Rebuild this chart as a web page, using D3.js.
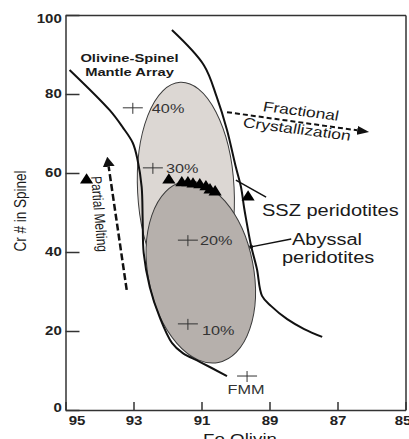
<!DOCTYPE html>
<html>
<head>
<meta charset="utf-8">
<script src="https://cdn.jsdelivr.net/npm/d3@7"></script>
<style>
  body { margin: 0; background: #fff; }
  svg { display: block; font-family: "Liberation Sans", Arial, sans-serif; }
</style>
</head>
<body>
<svg id="chart" width="409" height="439"></svg>
<script>
// axis ticks
var foTicks = [95, 93, 91, 89, 87, 85];
var crTicks = [0, 20, 40, 60, 80, 100];

// olivine-spinel mantle array, left boundary (Fo, Cr#)
var leftFo = [94.88, 93.70, 93.32, 93.02, 92.88, 92.76, 92.73, 92.70, 92.52, 92.23, 91.87, 91.55, 91.05, 90.25];
var leftCr = [86.1, 75.9, 71.6, 67.6, 63.3, 56.5, 48.1, 39.7, 31.1, 23.5, 17.0, 14.4, 12.2, 8.6];

// right boundary
var rightFo = [91.87, 90.93, 90.55, 90.25, 89.99, 89.84, 89.75, 89.69, 89.54, 89.37, 89.22, 88.95, 88.48, 87.98, 87.45];
var rightCr = [96.2, 87.3, 79.2, 70.9, 61.5, 56.5, 51.4, 48.4, 41.5, 35.7, 28.9, 26.3, 23.0, 20.5, 18.5];

// fields: SSZ (light) and abyssal (dark)
var fieldNames = ["SSZ", "Abyssal"];
var fieldFo = [91.46, 91.02];
var fieldCr = [55.7, 34.9];
var fieldFoHalf = [1.42, 1.55];
var fieldCrHalf = [27.3, 23.3];
var fieldTilt = [-3, -11];

// melting degree marks
var meltLabels = ["40%", "30%", "20%", "10%", "FMM"];
var meltFo = [93.02, 92.43, 91.40, 91.40, 89.66];
var meltCr = [76.5, 61.3, 43.0, 21.8, 8.6];

// spinel samples (triangles)
var sampleFo = [94.38, 91.96, 91.58, 91.40, 91.25, 91.05, 90.87, 90.75, 90.60, 89.63];
var sampleCr = [58.2, 58.2, 57.5, 57.5, 57.2, 57.0, 56.5, 55.7, 55.2, 53.9];

// trend arrows [start, end] in (Fo, Cr#)
var meltArrowFo = [93.20, 93.73];
var meltArrowCr = [30.4, 61.6];
var fracArrowFo = [90.25, 86.42];
var fracArrowCr = [75.4, 70.8];

var SX = 1.25; // the figure's type is a bit wide

var svg = d3.select("#chart");
var x = d3.scaleLinear().domain([95, 85]).range([65.5, 405.5]);
var y = d3.scaleLinear().domain([0, 100]).range([410, 15]);

var defs = svg.append("defs");
function head(id, len, wid) {
  defs.append("marker")
    .attr("id", id)
    .attr("markerUnits", "userSpaceOnUse")
    .attr("markerWidth", len).attr("markerHeight", wid)
    .attr("refX", 0).attr("refY", wid / 2)
    .attr("orient", "auto")
    .append("path")
    .attr("d", `M0,0L${len},${wid / 2}L0,${wid}Z`)
    .attr("fill", "#111");
}
head("headMelt", 10, 12);
head("headFrac", 12, 9);

// fields
fieldNames.forEach(function (n, i) {
  var cx = x(fieldFo[i]), cy = y(fieldCr[i]);
  svg.append("ellipse")
    .attr("cx", cx).attr("cy", cy)
    .attr("rx", Math.abs(x(fieldFo[i] + fieldFoHalf[i]) - cx))
    .attr("ry", Math.abs(y(fieldCr[i] + fieldCrHalf[i]) - cy))
    .attr("transform", `rotate(${fieldTilt[i]},${cx},${cy})`)
    .attr("fill", i == 0 ? "#dcd7d3" : "#b6b0ac")
    .attr("stroke", "#3a3a3a")
    .attr("stroke-width", 1);
});

// mantle array boundaries
var line = d3.line()
  .x(d => x(d[0])).y(d => y(d[1]))
  .curve(d3.curveCatmullRom.alpha(0.5));
[[leftFo, leftCr], [rightFo, rightCr]].forEach(function (c) {
  svg.append("path")
    .attr("d", line(d3.zip(c[0], c[1])))
    .attr("fill", "none")
    .attr("stroke", "#111")
    .attr("stroke-width", 2);
});

// axes
svg.append("g")
  .attr("transform", "translate(0,410)")
  .call(d3.axisBottom(x).tickValues(foTicks).tickSizeInner(-8).tickSizeOuter(0).tickPadding(6).tickFormat(d3.format("d")))
  .call(g => g.selectAll("text").attr("dx", d => d == 95 ? 11 / SX : d == 85 ? -3 / SX : 0));
svg.append("g")
  .attr("transform", "translate(65.5,0)")
  .call(d3.axisLeft(y).tickValues(crTicks).tickSizeInner(-14).tickSizeOuter(0).tickPadding(3))
  .call(g => g.selectAll("text").attr("dy", d => d == 100 ? "0.6em" : d == 0 ? "0.1em" : "0.32em"));
svg.append("g").attr("transform", "translate(0,15)")
  .call(d3.axisTop(x).tickValues([]).tickSizeOuter(0));
svg.append("g").attr("transform", "translate(405.5,0)")
  .call(d3.axisRight(y).tickValues([]).tickSizeOuter(0));
svg.selectAll(".domain, .tick line").attr("stroke", "#333").attr("stroke-width", 1.5);
svg.selectAll(".tick text")
  .attr("font-family", "'Liberation Sans', Arial, sans-serif")
  .attr("font-size", 12).attr("font-weight", "bold").attr("fill", "#222")
  .attr("transform", `scale(${SX},1)`);

// melting degree crosses
meltLabels.forEach(function (t, i) {
  var px = x(meltFo[i]), py = y(meltCr[i]);
  svg.append("path")
    .attr("d", `M${px - 10},${py}H${px + 10}M${px},${py - 5}V${py + 6}`)
    .attr("stroke", "#333").attr("stroke-width", 1);
});

// samples
svg.selectAll(".sample")
  .data(d3.zip(sampleFo, sampleCr))
  .enter().append("path")
  .attr("class", "sample")
  .attr("d", d3.symbol(d3.symbolTriangle, 62))
  .attr("transform", d => `translate(${x(d[0])},${y(d[1])}) scale(1.1,1)`)
  .attr("fill", "#000");

// trend arrows
svg.append("line")
  .attr("x1", x(meltArrowFo[0])).attr("y1", y(meltArrowCr[0]))
  .attr("x2", x(meltArrowFo[1])).attr("y2", y(meltArrowCr[1]))
  .attr("stroke", "#111").attr("stroke-width", 2.5)
  .attr("stroke-dasharray", "7,3")
  .attr("marker-end", "url(#headMelt)");
svg.append("line")
  .attr("x1", x(fracArrowFo[0])).attr("y1", y(fracArrowCr[0]))
  .attr("x2", x(fracArrowFo[1])).attr("y2", y(fracArrowCr[1]))
  .attr("stroke", "#111").attr("stroke-width", 2)
  .attr("stroke-dasharray", "5,3")
  .attr("marker-end", "url(#headFrac)");

// pointer lines
svg.append("line")
  .attr("x1", x(89.10)).attr("y1", y(53.9)).attr("x2", x(89.99)).attr("y2", y(58.2))
  .attr("stroke", "#111").attr("stroke-width", 1.5);
svg.append("line")
  .attr("x1", x(88.36)).attr("y1", y(43.3)).attr("x2", x(89.54)).attr("y2", y(41.3))
  .attr("stroke", "#111").attr("stroke-width", 1.5);
svg.append("circle").attr("cx", x(89.54)).attr("cy", y(41.3)).attr("r", 2).attr("fill", "#111");

// text
function addText(txt, px, py, size, opt) {
  opt = opt || {};
  return svg.append("text")
    .attr("transform", `translate(${px},${py}) scale(${SX},1)` + (opt.rotate ? ` rotate(${opt.rotate})` : ""))
    .attr("text-anchor", opt.anchor || "start")
    .attr("dy", opt.dy || null)
    .attr("font-size", size)
    .attr("font-weight", opt.weight || "normal")
    .attr("fill", opt.fill || "#1a1a1a")
    .text(txt);
}

var meltDx = [19, 13, 12, 14];
var meltDy = [5, 5, 5, 11];
meltLabels.slice(0, 4).forEach(function (t, i) {
  addText(t, x(meltFo[i]) + meltDx[i], y(meltCr[i]) + meltDy[i], 13, { fill: "#333" });
});
addText("FMM", x(meltFo[4]) - 1, y(meltCr[4]) + 18, 13, { anchor: "middle", fill: "#333" });

addText("Olivine-Spinel", 129.5, 62, 11.8, { anchor: "middle", weight: "bold" });
addText("Mantle Array", 129.5, 76, 11.8, { anchor: "middle", weight: "bold" });
addText("Fractional", 301, 111, 14, { anchor: "middle", rotate: 9, dy: "0.35em" });
addText("Crystallization", 297, 129, 14, { anchor: "middle", rotate: 9, dy: "0.35em" });
addText("Partial Melting", 99.5, 214, 12, { anchor: "middle", rotate: 86, dy: "0.35em" });
addText("SSZ peridotites", 262, 216, 16);
addText("Abyssal", 292, 245, 16);
addText("peridotites", 282, 263, 16);
addText("Cr # in Spinel", 20, 211, 13.5, { anchor: "middle", rotate: -90, dy: "0.35em" });
addText("Fo Olivin", 240, 444, 15, { anchor: "middle" });
</script>
</body>
</html>
